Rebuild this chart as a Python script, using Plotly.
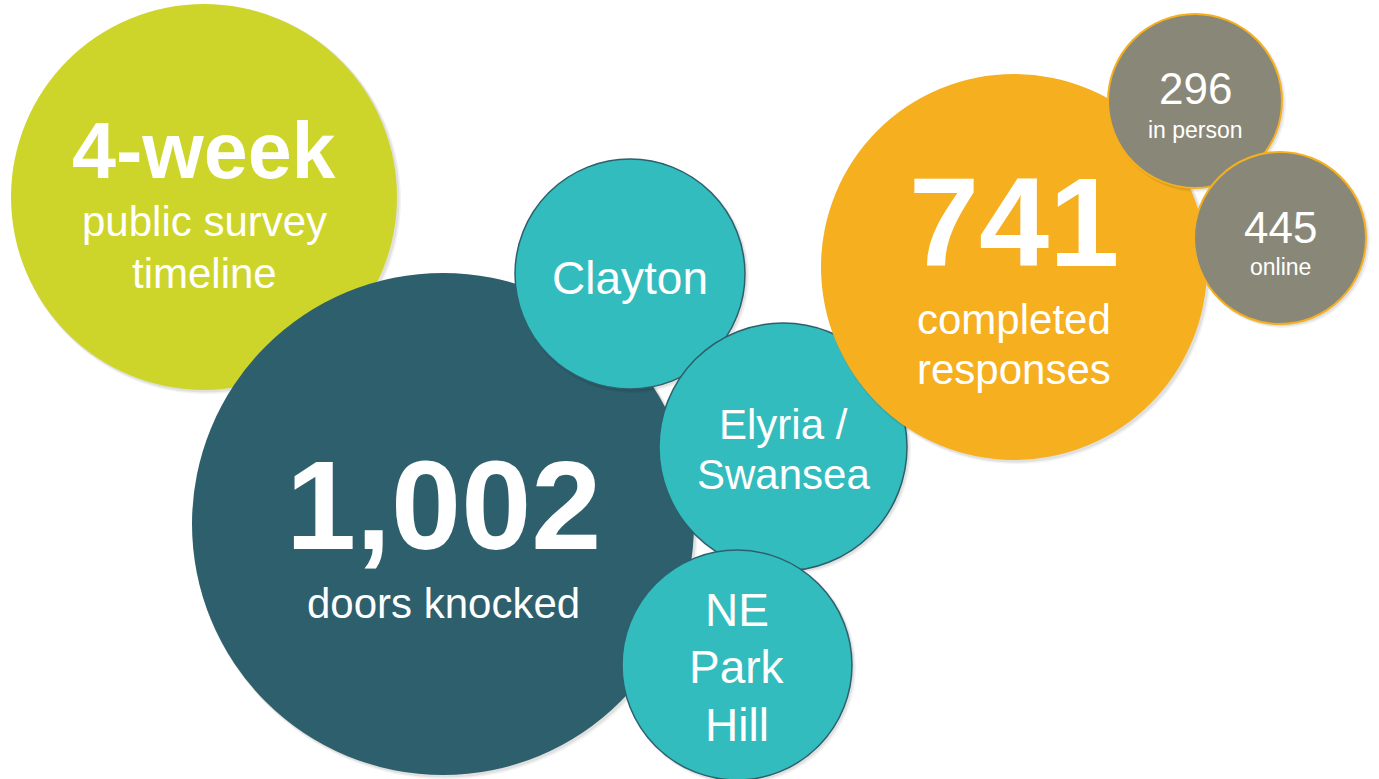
import plotly.graph_objects as go

# ---- data (text content of each bubble) ----
headline = ["4-week", "1,002", "Clayton", "Elyria /", "NE", "741", "296", "445"]
sublines = [
    ["public survey", "timeline"],
    ["doors knocked"],
    [],
    ["Swansea"],
    ["Park", "Hill"],
    ["completed", "responses"],
    ["in person"],
    ["online"],
]

# ---- layout of bubbles (pixel space, y down) ----
cx = [204, 443, 630, 783, 737, 1014, 1195, 1280]
cy = [197, 524, 274, 447, 665, 267, 101, 238]
rad = [193, 251, 115, 124, 115, 193, 87, 86]
fills = ["#CED52A", "#2E5F6C", "#33BCBE", "#33BCBE", "#33BCBE", "#F5AF1F", "#898878", "#898878"]
borders = [None, None, "#2E5F6C", "#2E5F6C", "#2E5F6C", None, "#F5AF1F", "#F5AF1F"]
border_w = [0, 0, 1.5, 1.5, 1.5, 0, 2, 2]

# text baselines (pixel y) and font sizes
head_base = [177, 547, 293, 438, 625, 264, 103, 242]
head_size = [79, 126, 46, 42, 46, 126, 44, 44]
head_bold = [True, True, False, False, False, True, False, False]
sub_base = [[235, 287], [617], [], [488], [682, 740], [333, 383], [138], [275]]
sub_size = [42, 42, 46, 42, 46, 42, 23, 23]

W, H = 1379, 779
FONT = "Liberation Sans, Arial, sans-serif"

fig = go.Figure()
fig.add_trace(go.Scatter(x=[0, W], y=[0, H], mode="markers",
                         marker=dict(opacity=0), hoverinfo="skip", showlegend=False))

shapes = []
for i in range(len(cx)):
    # soft shadow
    for off, op in [(4, 0.05), (2.5, 0.07)]:
        shapes.append(dict(type="circle", xref="x", yref="y",
                           x0=cx[i] - rad[i] + 1, x1=cx[i] + rad[i] + off,
                           y0=cy[i] - rad[i] + 1, y1=cy[i] + rad[i] + off,
                           fillcolor=f"rgba(0,0,0,{op})", line=dict(width=0)))
    line = dict(width=0) if borders[i] is None else dict(color=borders[i], width=border_w[i])
    shapes.append(dict(type="circle", xref="x", yref="y",
                       x0=cx[i] - rad[i], x1=cx[i] + rad[i],
                       y0=cy[i] - rad[i], y1=cy[i] + rad[i],
                       fillcolor=fills[i], line=line))

annotations = []
def add_text(txt, x, base, size, bold):
    t = f"<b>{txt}</b>" if bold else txt
    annotations.append(dict(text=t, x=x, y=base - 0.33 * size, xref="x", yref="y",
                            xanchor="center", yanchor="middle", showarrow=False,
                            font=dict(family=FONT, size=size, color="white")))

for i in range(len(cx)):
    add_text(headline[i], cx[i], head_base[i], head_size[i], head_bold[i])
    for j, s in enumerate(sublines[i]):
        add_text(s, cx[i], sub_base[i][j], sub_size[i], False)

fig.update_layout(
    width=W, height=H,
    margin=dict(l=0, r=0, t=0, b=0),
    paper_bgcolor="white", plot_bgcolor="white",
    xaxis=dict(range=[0, W], visible=False, fixedrange=True),
    yaxis=dict(range=[H, 0], visible=False, fixedrange=True),
    shapes=shapes, annotations=annotations,
    showlegend=False,
)

fig.write_html("out.html", config={"displayModeBar": False},
               post_script="document.body.style.margin='0';")
